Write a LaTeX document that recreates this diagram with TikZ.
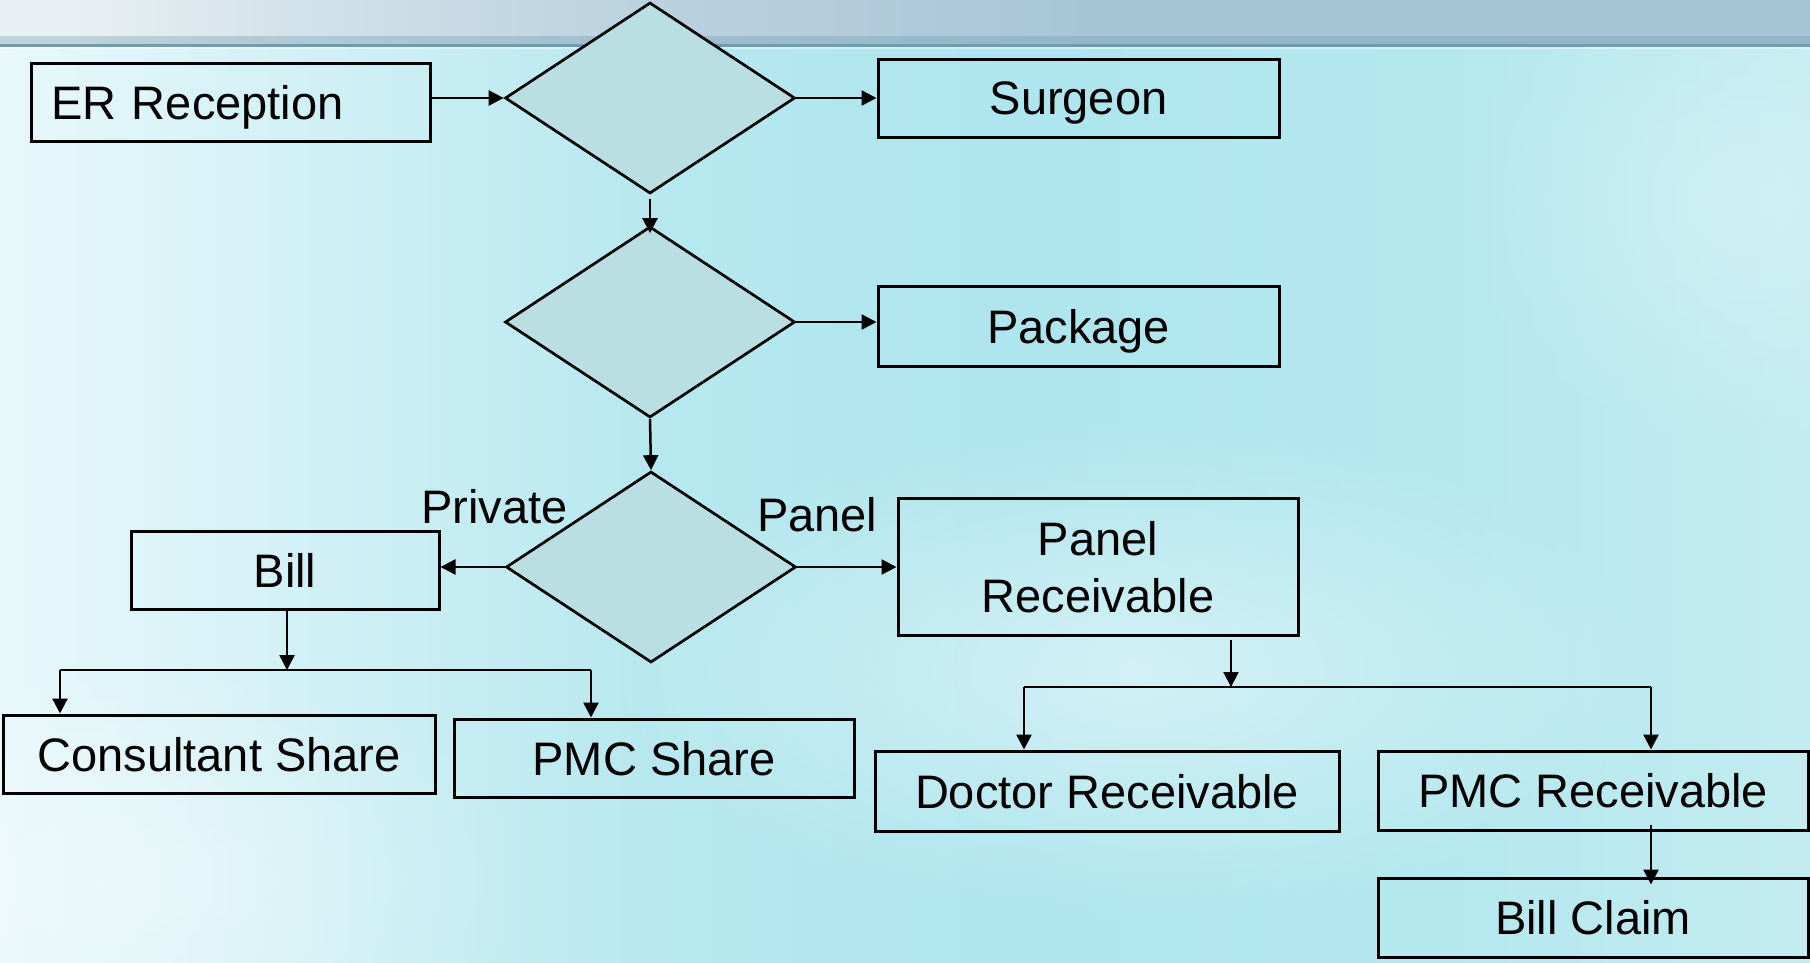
\documentclass[tikz,border=0pt]{standalone}
\usepackage{fontspec}
\setmainfont{Liberation Sans}
\usetikzlibrary{shapes.geometric,arrows.meta,fadings}
\definecolor{bandL}{HTML}{E9F0F3}
\definecolor{bandK}{HTML}{D3E2EA}
\definecolor{bandM}{HTML}{BCD3E0}
\definecolor{bandR}{HTML}{A8C5D8}
\definecolor{bandD}{HTML}{6F9CAE}
\definecolor{bgA}{HTML}{E8F8FB}
\definecolor{bgB}{HTML}{D3F1F6}
\definecolor{bgC}{HTML}{B7E8EF}
\definecolor{bgD}{HTML}{AEE5EE}
\definecolor{bgE}{HTML}{B4E8EF}
\definecolor{bgF}{HTML}{C3ECF1}
\definecolor{dfill}{HTML}{B9DFE2}
\pgfdeclarehorizontalshading{bgshade}{100bp}{color(0bp)=(bgA); color(25bp)=(bgA); color(33bp)=(bgB); color(43bp)=(bgC); color(53bp)=(bgD); color(65bp)=(bgE); color(75bp)=(bgF); color(100bp)=(bgF)}
\pgfdeclarehorizontalshading{bandshade}{100bp}{color(0bp)=(bandL); color(27bp)=(bandL); color(33bp)=(bandK); color(42bp)=(bandM); color(55bp)=(bandR); color(100bp)=(bandR)}
\tikzfading[name=myfade, inner color=transparent!0, outer color=transparent!100]
\tikzset{
  box/.style={draw=black, line width=3pt, inner sep=0pt, align=center, text depth=0pt,
    font=\fontsize{47}{57}\selectfont},
  dec/.style={diamond, draw=black, line width=2.7pt, fill=dfill, inner sep=0pt,
    aspect=1.52, minimum width=290pt, minimum height=191pt},
  arr/.style={line width=2.5pt, -{Triangle[length=15pt,width=15pt]}},
  ln/.style={line width=2.5pt},
  lbl/.style={font=\fontsize{47}{57}\selectfont, inner sep=0pt}
}
\begin{document}
\begin{tikzpicture}[x=1pt,y=-1pt]
\useasboundingbox (0,0) rectangle (1810,962);
% background
\shade[shading=bgshade] (0,46) rectangle (1810,962);
\fill[white, fill opacity=0.45, path fading=myfade] (1130,670) ellipse (520 and 250);
\fill[white, fill opacity=0.35, path fading=myfade] (120,880) ellipse (420 and 220);
\fill[white, fill opacity=0.25, path fading=myfade] (1750,200) ellipse (300 and 250);
\shade[shading=bandshade] (0,0) rectangle (1810,46);
\fill[bandD, fill opacity=0.35] (0,36) rectangle (1810,46);
\fill[bandD] (0,44) rectangle (1810,47);
\fill[white, fill opacity=0.4] (0,47) rectangle (1810,49);
% nodes
\node[box, text width=359pt, inner xsep=20pt, minimum height=78pt, align=left] (er) at (230.5,102) {ER Reception};
\node[dec] (d1) at (650,98) {};
\node[box, minimum width=401pt, minimum height=78pt] (surg) at (1078.5,98) {Surgeon};
\node[dec] (d2) at (650,322) {};
\node[box, minimum width=401pt, minimum height=80pt] (pack) at (1078.5,326) {Package};
\node[dec] (d3) at (651,567) {};
\node[box, minimum width=308pt, minimum height=78pt] (bill) at (285,570) {Bill};
\node[box, minimum width=400pt, minimum height=137pt] (prec) at (1098,566.5) {Panel\\Receivable};
\node[box, minimum width=432pt, minimum height=78pt] (cons) at (219,754) {Consultant Share};
\node[box, minimum width=400pt, minimum height=78pt] (pmcs) at (654,758) {PMC Share};
\node[box, minimum width=464pt, minimum height=80pt] (doc) at (1107,791) {Doctor Receivable};
\node[box, minimum width=430pt, minimum height=79pt] (pmcr) at (1593,790.5) {PMC Receivable};
\node[box, minimum width=430pt, minimum height=79pt] (bc) at (1593,917.5) {Bill Claim};
\node[lbl, anchor=base west] (lpriv) at (421,523) {Private};
\node[lbl, anchor=base west] (lpan) at (757,531) {Panel};
% connectors
\draw[arr] (er.east |- d1.west) -- (d1.west);
\draw[arr] (d1.east) -- (surg.west |- d1.east);
\draw[arr] ([yshift=-4pt]d1.south) -- ([yshift=-8pt]d2.north);
\draw[arr] (d2.east) -- (pack.west |- d2.east);
\draw[arr] (d2.south) -- (d3.north);
\draw[arr] (d3.west) -- (bill.east |- d3.west);
\draw[arr] (d3.east) -- (prec.west |- d3.east);
% bill split
\coordinate (bs) at (287,670);
\coordinate (bl) at (60,670);
\coordinate (br) at (591,670);
\coordinate (bst) at (bill.south -| bs);
\draw[arr] (bst) -- (bs);
\draw[ln] (bl) -- (br);
\draw[arr] (bl) -- (bl |- cons.north);
\draw[arr] (br) -- (br |- pmcs.north);
% panel split
\coordinate (ps) at (1231,687);
\coordinate (pl) at (1024,687);
\coordinate (pr) at (1651,687);
\coordinate (pst) at (prec.south -| ps);
\draw[arr] ([yshift=-3pt]pst) -- (ps);
\draw[ln] (pl) -- (pr);
\draw[arr] (pl) -- (pl |- doc.north);
\draw[arr] (pr) -- (pr |- pmcr.north);
\coordinate (cst) at (pmcr.south -| pr);
\coordinate (cen) at (bc.north -| pr);
\draw[arr] ([yshift=7pt]cst) -- ([yshift=-8pt]cen);
\end{tikzpicture}
\end{document}
